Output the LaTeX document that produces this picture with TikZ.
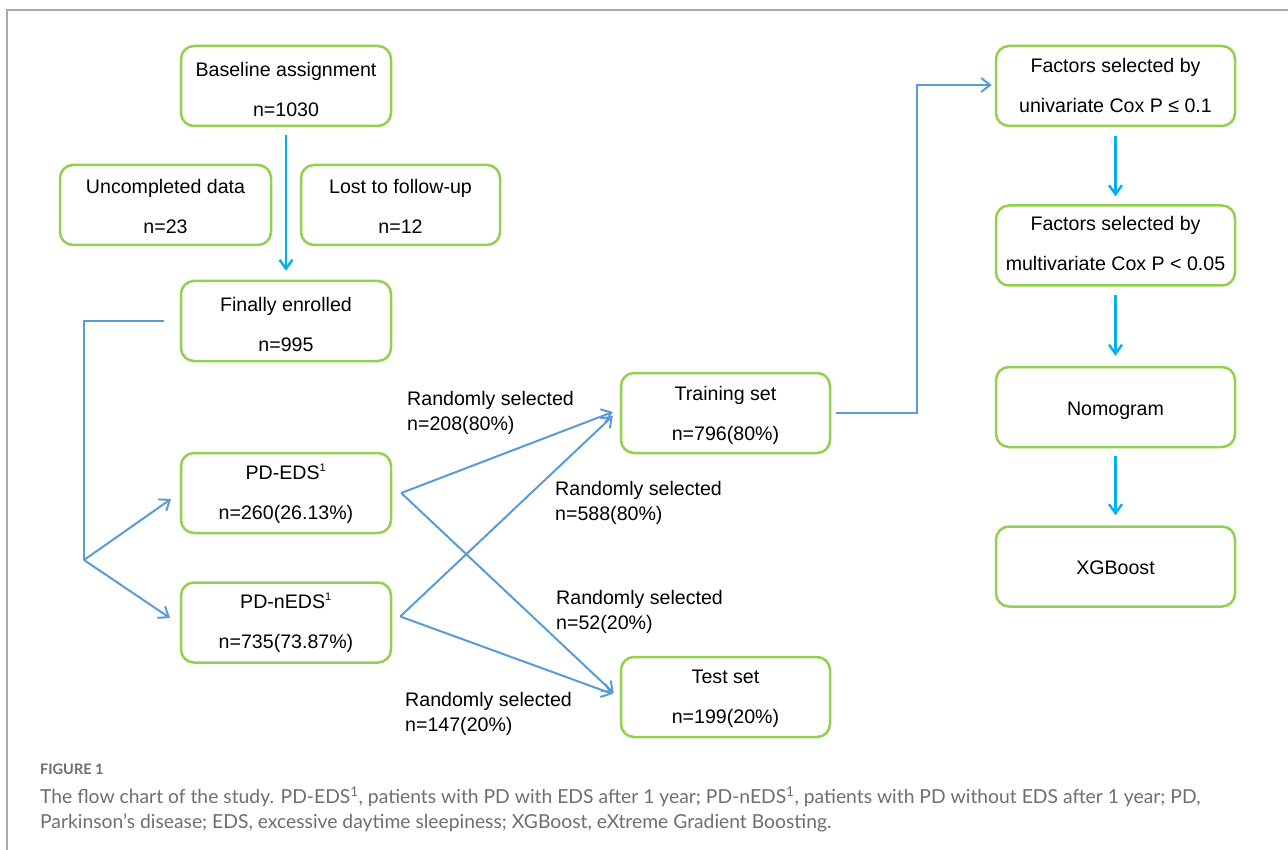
\documentclass[tikz,border=0pt]{standalone}
\usepackage{fontspec}
\setmainfont{Liberation Sans}
\newfontfamily\capfont{Lato}
\usetikzlibrary{arrows.meta}
\definecolor{boxgreen}{HTML}{92D050}
\definecolor{lineblue}{HTML}{5B9BD5}
\definecolor{arrcyan}{HTML}{00B0F0}
\definecolor{framegray}{HTML}{AAAAAA}
\definecolor{capgray}{HTML}{6E6E6E}
\tikzset{
  flowbox/.style={draw=boxgreen, line width=2.5pt, rounded corners=13pt,
    minimum height=80pt, inner sep=0pt, align=center, text depth=5pt,
    font=\fontsize{19.6}{40}\selectfont},
  cyanarrow/.style={draw=arrcyan, line width=2.4pt,
    -{Straight Barb[length=9pt,width=13pt]}},
  bluearrow/.style={draw=lineblue, line width=2pt,
    -{Straight Barb[length=9pt,width=14pt]}},
  blueline/.style={draw=lineblue, line width=2pt},
  sellabel/.style={anchor=west, inner sep=0pt, align=left,
    font=\fontsize{19.6}{25}\selectfont}
}
\begin{document}
\begin{tikzpicture}[x=1pt,y=-1pt]
\useasboundingbox (0,0) rectangle (1288,850);
% frame
\draw[framegray, line width=1.2pt] (7,850) -- (7,10) -- (1288,10);

% left column
\node[flowbox, minimum width=210pt, text height=67pt] (base) at (286,86) {Baseline assignment\\n=1030};
\node[flowbox, minimum width=211pt, text height=63pt] (unc) at (165.5,205) {Uncompleted data\\n=23};
\node[flowbox, minimum width=199pt, text height=63pt] (lost) at (400.5,205) {Lost to follow-up\\n=12};
\node[flowbox, minimum width=210pt, text height=67pt] (fin) at (286,321) {Finally enrolled\\n=995};
\node[flowbox, minimum width=210pt, text height=57pt] (eds) at (286,493) {PD-EDS\textsuperscript{\fontsize{11}{11}\selectfont 1}\\n=260(26.13\%)};
\node[flowbox, minimum width=210pt, text height=56pt] (neds) at (286,622.5) {PD-nEDS\textsuperscript{\fontsize{11}{11}\selectfont 1}\\n=735(73.87\%)};

% middle column
\node[flowbox, minimum width=209pt, text height=59pt] (train) at (725.5,413) {Training set\\n=796(80\%)};
\node[flowbox, minimum width=209pt, text height=57pt] (test) at (725.5,697) {Test set\\n=199(20\%)};

% right column
\node[flowbox, minimum width=239pt, text height=59pt] (uni) at (1115.5,86) {Factors selected by\\univariate Cox P ≤ 0.1};
\node[flowbox, minimum width=239pt, text height=56pt] (multi) at (1115.5,245.5) {Factors selected by\\multivariate Cox P < 0.05};
\node[flowbox, minimum width=239pt, text height=21pt] (nomo) at (1115.5,407) {Nomogram};
\node[flowbox, minimum width=239pt, text height=20pt] (xgb) at (1115.5,566.5) {XGBoost};

% connectors
\draw[cyanarrow] ([yshift=-8pt]base.south) -- ([yshift=9pt]fin.north);
\coordinate (bend) at (84,321);
\coordinate (split) at (84,560);
\draw[blueline] ([xshift=-16pt]fin.west) -- (bend) -- (split);
\draw[bluearrow] (split) -- (171,499);
\draw[bluearrow] (split) -- (170,618);

\draw[bluearrow] ([xshift=9pt]eds.east) -- ([xshift=-7pt,yshift=1pt]train.west);
\draw[bluearrow] ([xshift=9pt]eds.east) -- ([xshift=-6pt,yshift=4pt]test.west);
\draw[bluearrow] ([xshift=8pt,yshift=6pt]neds.east) -- ([xshift=-7pt,yshift=-3pt]train.west);
\draw[bluearrow] ([xshift=8pt,yshift=6pt]neds.east) -- ([xshift=-7pt,yshift=3pt]test.west);

\coordinate (knee) at (917,413);
\draw[bluearrow] ([xshift=5pt]train.east) -- (knee) |- ([xshift=-3pt,yshift=1pt]uni.west);

\draw[cyanarrow] ([yshift=-9pt]uni.south) -- ([yshift=8pt]multi.north);
\draw[cyanarrow] ([yshift=-8pt]multi.south) -- ([yshift=10pt]nomo.north);
\draw[cyanarrow] ([yshift=-8pt]nomo.south) -- ([yshift=10pt]xgb.north);

% labels
\node[sellabel] (l1) at (407,412.5) {Randomly selected\\n=208(80\%)};
\node[sellabel] (l2) at (555,503) {Randomly selected\\n=588(80\%)};
\node[sellabel] (l3) at (556,612) {Randomly selected\\n=52(20\%)};
\node[sellabel] (l4) at (405,714) {Randomly selected\\n=147(20\%)};

% caption
\node[anchor=west, inner sep=0pt, text=capgray, font=\capfont\bfseries\fontsize{14.5}{16}\selectfont] (figlab) at (40,769) {FIGURE 1};
\node[anchor=west, inner sep=0pt, text=capgray, align=left, font=\capfont\fontsize{19.3}{25}\selectfont] (cap) at (40,809.5)
 {The flow chart of the study. PD-EDS\textsuperscript{1}, patients with PD with EDS after 1 year; PD-nEDS\textsuperscript{1}, patients with PD without EDS after 1 year; PD,\\
 Parkinson’s disease; EDS, excessive daytime sleepiness; XGBoost, eXtreme Gradient Boosting.};
\end{tikzpicture}
\end{document}
